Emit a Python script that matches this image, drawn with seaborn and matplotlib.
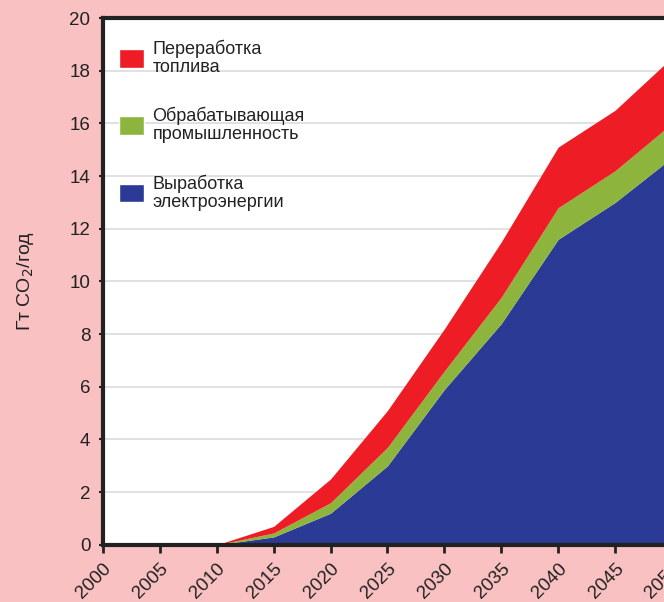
import numpy as np
import pandas as pd
import seaborn as sns
import matplotlib.pyplot as plt
from matplotlib.patches import Patch

# values (Gt CO2 per year, stacked)
years = [2000, 2005, 2010, 2015, 2020, 2025, 2030, 2035, 2040, 2045, 2050]
power = [0, 0, 0, 0.3, 1.2, 3.0, 5.9, 8.4, 11.6, 13.0, 14.7]
industry = [0, 0, 0, 0.15, 0.4, 0.7, 0.7, 1.0, 1.2, 1.2, 1.3]
fuel = [0, 0, 0, 0.25, 0.9, 1.4, 1.6, 2.1, 2.3, 2.3, 2.5]

labels = ["Выработка\nэлектроэнергии", "Обрабатывающая\nпромышленность", "Переработка\nтоплива"]
colors = ["#2b3a94", "#8db43c", "#ee1c25"]

sns.set_theme(style="white")
plt.rcParams['font.family'] = ['Liberation Sans', 'DejaVu Sans']

df = pd.DataFrame({"year": years, "power": power, "industry": industry, "fuel": fuel})

fig = plt.figure(figsize=(6.64, 6.02), dpi=100, facecolor="#f9c1c1")
ax = fig.add_axes([0.155, 0.095, 0.857, 0.875])
ax.set_facecolor("white")

ax.stackplot(df.year, df.power, df.industry, df.fuel, colors=colors, lw=0, zorder=3)

ax.set_xlim(2000, 2050)
ax.set_ylim(0, 20)
ax.set_xticks(years)
ax.set_yticks(np.arange(0, 21, 2))
ax.grid(axis="y", color="#dedede", lw=1.3, zorder=0)
ax.grid(axis="x", visible=False)

for s in ["left", "top", "bottom"]:
    ax.spines[s].set_color("#222222")
    ax.spines[s].set_linewidth(3)
    ax.spines[s].set_zorder(5)
ax.spines["right"].set_visible(False)

ax.tick_params(axis="x", bottom=True, length=6, width=2, color="#222222",
               labelsize=13.5, labelcolor="#222222", pad=5)
ax.tick_params(axis="y", left=True, length=3, width=1.5, color="#222222",
               labelsize=13.5, labelcolor="#222222", pad=6)
plt.setp(ax.get_xticklabels(), rotation=45, ha="right", rotation_mode="anchor")

ax.set_ylabel("Гт CO$_2$/год", fontsize=14, color="#222222", labelpad=24)

handles = [Patch(facecolor=c) for c in colors[::-1]]
leg = ax.legend(handles, labels[::-1], loc="upper left", bbox_to_anchor=(0.0, 0.99),
                frameon=False, fontsize=13, handlelength=1.4, handleheight=1.2,
                handletextpad=0.45, labelspacing=1.7)
for t in leg.get_texts():
    t.set_linespacing(1.1)
    t.set_color("#222222")

fig.savefig("out.png", dpi=100, facecolor=fig.get_facecolor())
